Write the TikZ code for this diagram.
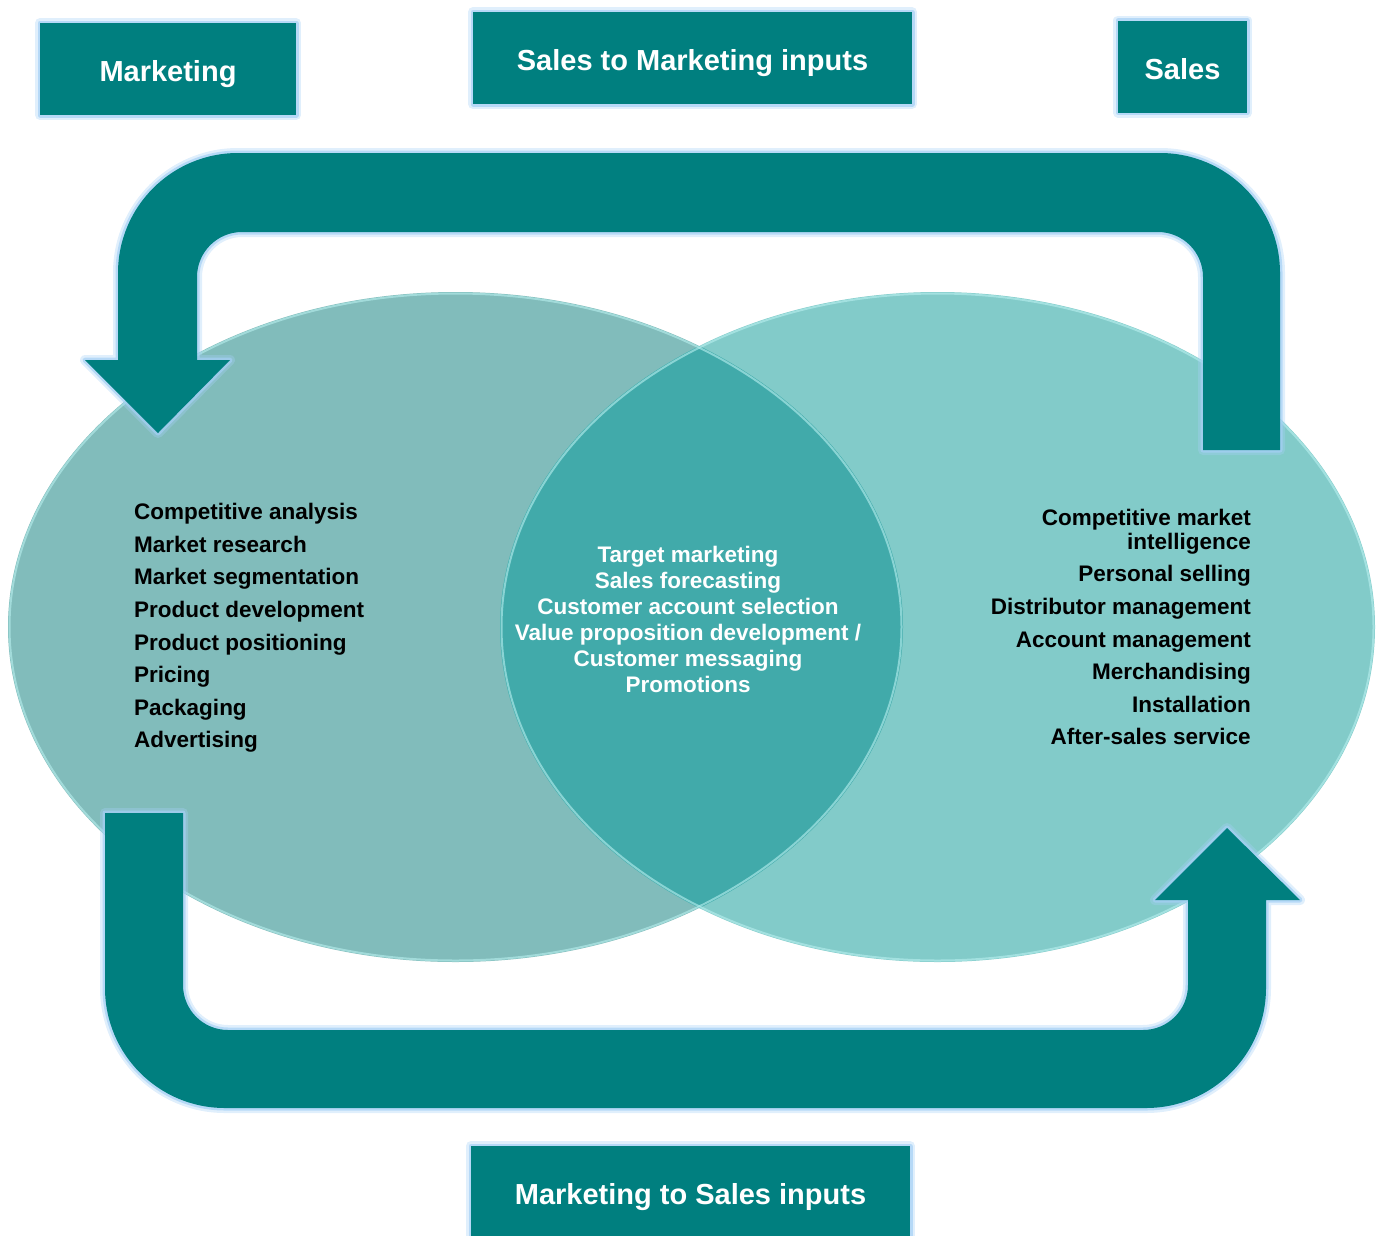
\documentclass[tikz,border=0pt]{standalone}
\usepackage{fontspec}
\setmainfont{Liberation Sans}
\usepackage{xcolor}
\usepackage{tikz}

\definecolor{tealbox}{RGB}{0,127,127}
\definecolor{mktfill}{RGB}{129,188,187}
\definecolor{salesfill}{RGB}{130,203,201}
\definecolor{sharedfill}{RGB}{65,170,170}
\definecolor{glowblue}{RGB}{165,208,245}
\definecolor{rimcyan}{RGB}{185,240,240}

\begin{document}
\begin{tikzpicture}[x=1pt, y=-1pt,
	glow/.style={preaction={draw=glowblue, line width=10pt, opacity=.35, line join=round},
		preaction={draw=glowblue, line width=5pt, opacity=.7, line join=round}},
	title/.style={rectangle, fill=tealbox, glow, text=white, minimum height=92pt, inner sep=0pt,
		text height=25pt, text depth=0pt, font=\fontsize{29}{34}\selectfont\bfseries},
	list/.style={inner sep=0pt, font=\fontsize{22.5}{32.6}\selectfont\bfseries}]
	\useasboundingbox (0,0) rectangle (1381,1235);

	% the two fields and their overlap
	\fill[mktfill] (455.5,627) ellipse [x radius=447.5, y radius=335];
	\fill[salesfill] (937.5,627) ellipse [x radius=437.5, y radius=335];
	\begin{scope}
		\clip (455.5,627) ellipse [x radius=447.5, y radius=335];
		\fill[sharedfill] (937.5,627) ellipse [x radius=437.5, y radius=335];
	\end{scope}
	\draw[rimcyan, line width=2pt, opacity=.6] (455.5,627) ellipse [x radius=446, y radius=333.5];
	\draw[rimcyan, line width=2pt, opacity=.6] (937.5,627) ellipse [x radius=436, y radius=333.5];

	% sales to marketing loop
	\fill[tealbox, glow] (1280,450) -- (1280,273) arc[start angle=0, end angle=-90, radius=120]
		-- (238,153) arc[start angle=-90, end angle=-180, radius=120]
		-- (118,360) -- (85,360) -- (158,433) -- (230,360) -- (197,360)
		-- (197,277) arc[start angle=180, end angle=270, radius=45]
		-- (1158,232) arc[start angle=270, end angle=360, radius=45]
		-- (1203,450) -- cycle;

	% marketing to sales loop
	\fill[tealbox, glow] (105,813) -- (105,988) arc[start angle=180, end angle=90, radius=120]
		-- (1146,1108) arc[start angle=90, end angle=0, radius=120]
		-- (1266,900) -- (1300,900) -- (1227,828) -- (1155,900) -- (1188,900)
		-- (1188,985) arc[start angle=0, end angle=90, radius=45]
		-- (228,1030) arc[start angle=90, end angle=180, radius=45]
		-- (183,813) -- cycle;

	\node[title, minimum width=256pt] (mkt) at (168,69) {Marketing};
	\node[title, minimum width=439pt] (s2m) at (692.5,58) {Sales to Marketing inputs};
	\node[title, minimum width=129pt] (sales) at (1182.5,66.5) {Sales};
	\node[title, minimum width=439pt] (m2s) at (690.5,1192) {Marketing to Sales inputs};

	\node[list, align=left, anchor=west] (mktlist) at (134,628) {Competitive analysis\\Market research\\Market segmentation\\Product development\\Product positioning\\Pricing\\Packaging\\Advertising};
	\node[list, align=right, anchor=east] (saleslist) at (1251,627) {Competitive market\\[-8.6pt]intelligence\\Personal selling\\Distributor management\\Account management\\Merchandising\\Installation\\After-sales service};
	\node[list, align=center, text=white, font=\fontsize{22.5}{26}\selectfont\bfseries] (shared) at (688,619) {Target marketing\\Sales forecasting\\Customer account selection\\Value proposition development /\\Customer messaging\\Promotions};
\end{tikzpicture}
\end{document}
